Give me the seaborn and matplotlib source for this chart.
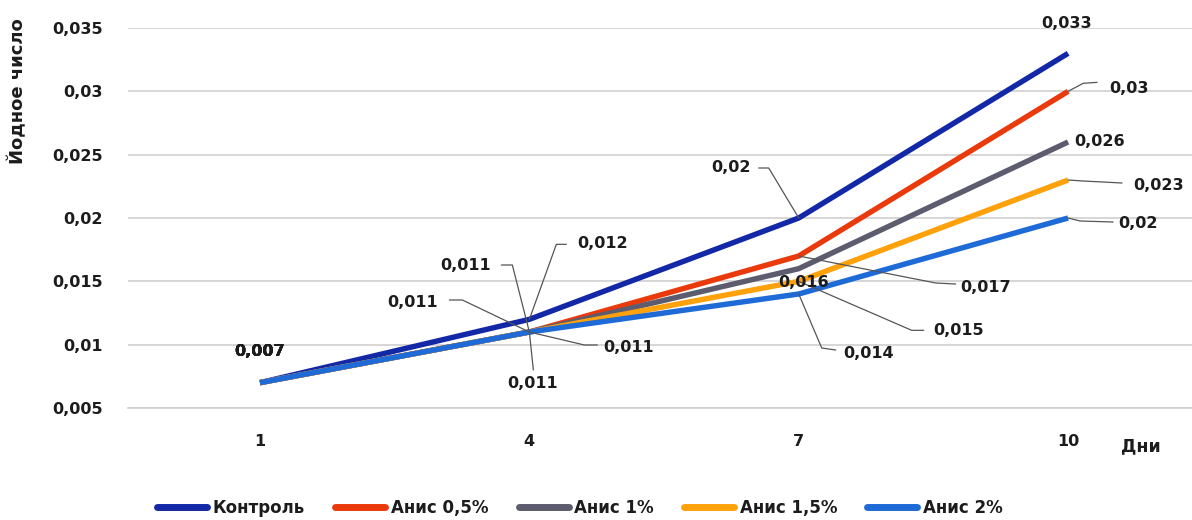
import matplotlib
matplotlib.use("Agg")
import matplotlib.pyplot as plt
import seaborn as sns
import pandas as pd
import numpy as np

days = ["1", "4", "7", "10"]
series_names = ["Контроль", "Анис 0,5%", "Анис 1%", "Анис 1,5%", "Анис 2%"]
control = [0.007, 0.012, 0.020, 0.033]
anis_05 = [0.007, 0.011, 0.017, 0.030]
anis_1 = [0.007, 0.011, 0.016, 0.026]
anis_15 = [0.007, 0.011, 0.015, 0.023]
anis_2 = [0.007, 0.011, 0.014, 0.020]
yticks = [0.005, 0.01, 0.015, 0.02, 0.025, 0.03, 0.035]
ytick_labels = ["0,005", "0,01", "0,015", "0,02", "0,025", "0,03", "0,035"]
colors = ["#1228a6", "#ea3a0c", "#5c5c6e", "#ffa10a", "#1e6ad6"]

values = [control, anis_05, anis_1, anis_15, anis_2]
rows = []
for name, vals in zip(series_names, values):
    for i, v in enumerate(vals):
        rows.append({"idx": i, "val": v, "series": name})
df = pd.DataFrame(rows)

sns.set_style("white")
plt.rcParams['font.family'] = ['DejaVu Sans']
plt.rcParams['font.weight'] = 'bold'

TXT = "#1c1c1c"
W, H = 1192, 520
fig = plt.figure(figsize=(W / 100, H / 100), dpi=100)
ax = fig.add_axes([128 / W, (H - 408) / H, (W - 128) / W, (408 - 28) / H])

sns.lineplot(data=df, x="idx", y="val", hue="series", hue_order=series_names,
             palette=colors, linewidth=3.9, ax=ax, legend=False, zorder=3,
             solid_capstyle="butt")

ax.set_xlim(-0.49, 3.46)
ax.set_ylim(0.005, 0.035)
ax.set_yticks(yticks)
ax.set_yticklabels(ytick_labels, fontsize=11.5, fontweight="bold", color=TXT)
ax.set_xticks(range(len(days)))
ax.set_xticklabels(days, fontsize=11.5, fontweight="bold", color=TXT)
ax.tick_params(axis="y", length=0, pad=18)
ax.tick_params(axis="x", length=0, pad=19)
ax.set_xlabel("")
ax.set_ylabel("")
ax.grid(axis="y", color="#cfcfcf", linewidth=1.2)
ax.grid(axis="x", visible=False)
for s in ["top", "right", "left"]:
    ax.spines[s].set_visible(False)
ax.spines["bottom"].set_color("#cfcfcf")
ax.spines["bottom"].set_linewidth(1.2)

fig.text(1141 / W, 1 - 446 / H, "Дни", fontsize=12.5, fontweight="bold",
         ha="center", va="center", color=TXT)
fig.text(18 / W, 1 - 91 / H, "Йодное число", fontsize=13, fontweight="bold",
         rotation=90, ha="center", va="center", color=TXT)

fig.canvas.draw()

def to_px(i, v):
    x, y = ax.transData.transform((i, v))
    return x, H - y

def to_data(px, py):
    return ax.transData.inverted().transform((px, H - py))

def label(si, di, text_off, leader=None):
    v = values[si][di]
    px, py = to_px(di, v)
    tx, ty = to_data(px + text_off[0], py + text_off[1])
    ax.text(tx, ty, f"{v:g}".replace(".", ","), fontsize=11.5, fontweight="bold",
            ha="center", va="center", color=TXT, zorder=5)
    if leader:
        pts = [(px, py)] + [(px + dx, py + dy) for dx, dy in leader]
        d = np.array([to_data(a, b) for a, b in pts])
        ax.plot(d[:, 0], d[:, 1], color="#555555", linewidth=0.9, zorder=4)

# day 1
for si in range(5):
    label(si, 0, (0, -31))
# day 4
label(0, 1, (73, -76), [(27, -75), (37, -75)])
label(1, 1, (-64, -67), [(-17, -67), (-28, -67)])
label(2, 1, (-117, -30), [(-67, -32), (-80, -32)])
label(3, 1, (99, 15), [(55, 13), (68, 13)])
label(4, 1, (3, 51), [(4, 38)])
# day 7
label(0, 2, (-68, -50), [(-30, -50), (-40, -50)])
label(1, 2, (187, 31), [(137, 27), (157, 28)])
label(2, 2, (5, 14))
label(3, 2, (160, 49), [(113, 49), (125, 49)])
label(4, 2, (70, 59), [(23, 54), (37, 56)])
# day 10
label(0, 3, (-2, -30))
label(1, 3, (61, -3), [(15, -8), (29, -9)])
label(2, 3, (31, -1))
label(3, 3, (90, 6), [(15, 1), (54, 3)])
label(4, 3, (70, 5), [(12, 3), (45, 4)])

from matplotlib.lines import Line2D
handles = [Line2D([0], [0], color=c, linewidth=5, solid_capstyle="round") for c in colors]
fig.legend(handles, series_names, loc="center", bbox_to_anchor=(580 / W, 1 - 508 / H),
           ncol=5, frameon=False, handlelength=3.0, handletextpad=0.35,
           columnspacing=1.8, prop={"weight": "bold", "size": 12}, labelcolor=TXT)

fig.savefig("out.png", dpi=100)
